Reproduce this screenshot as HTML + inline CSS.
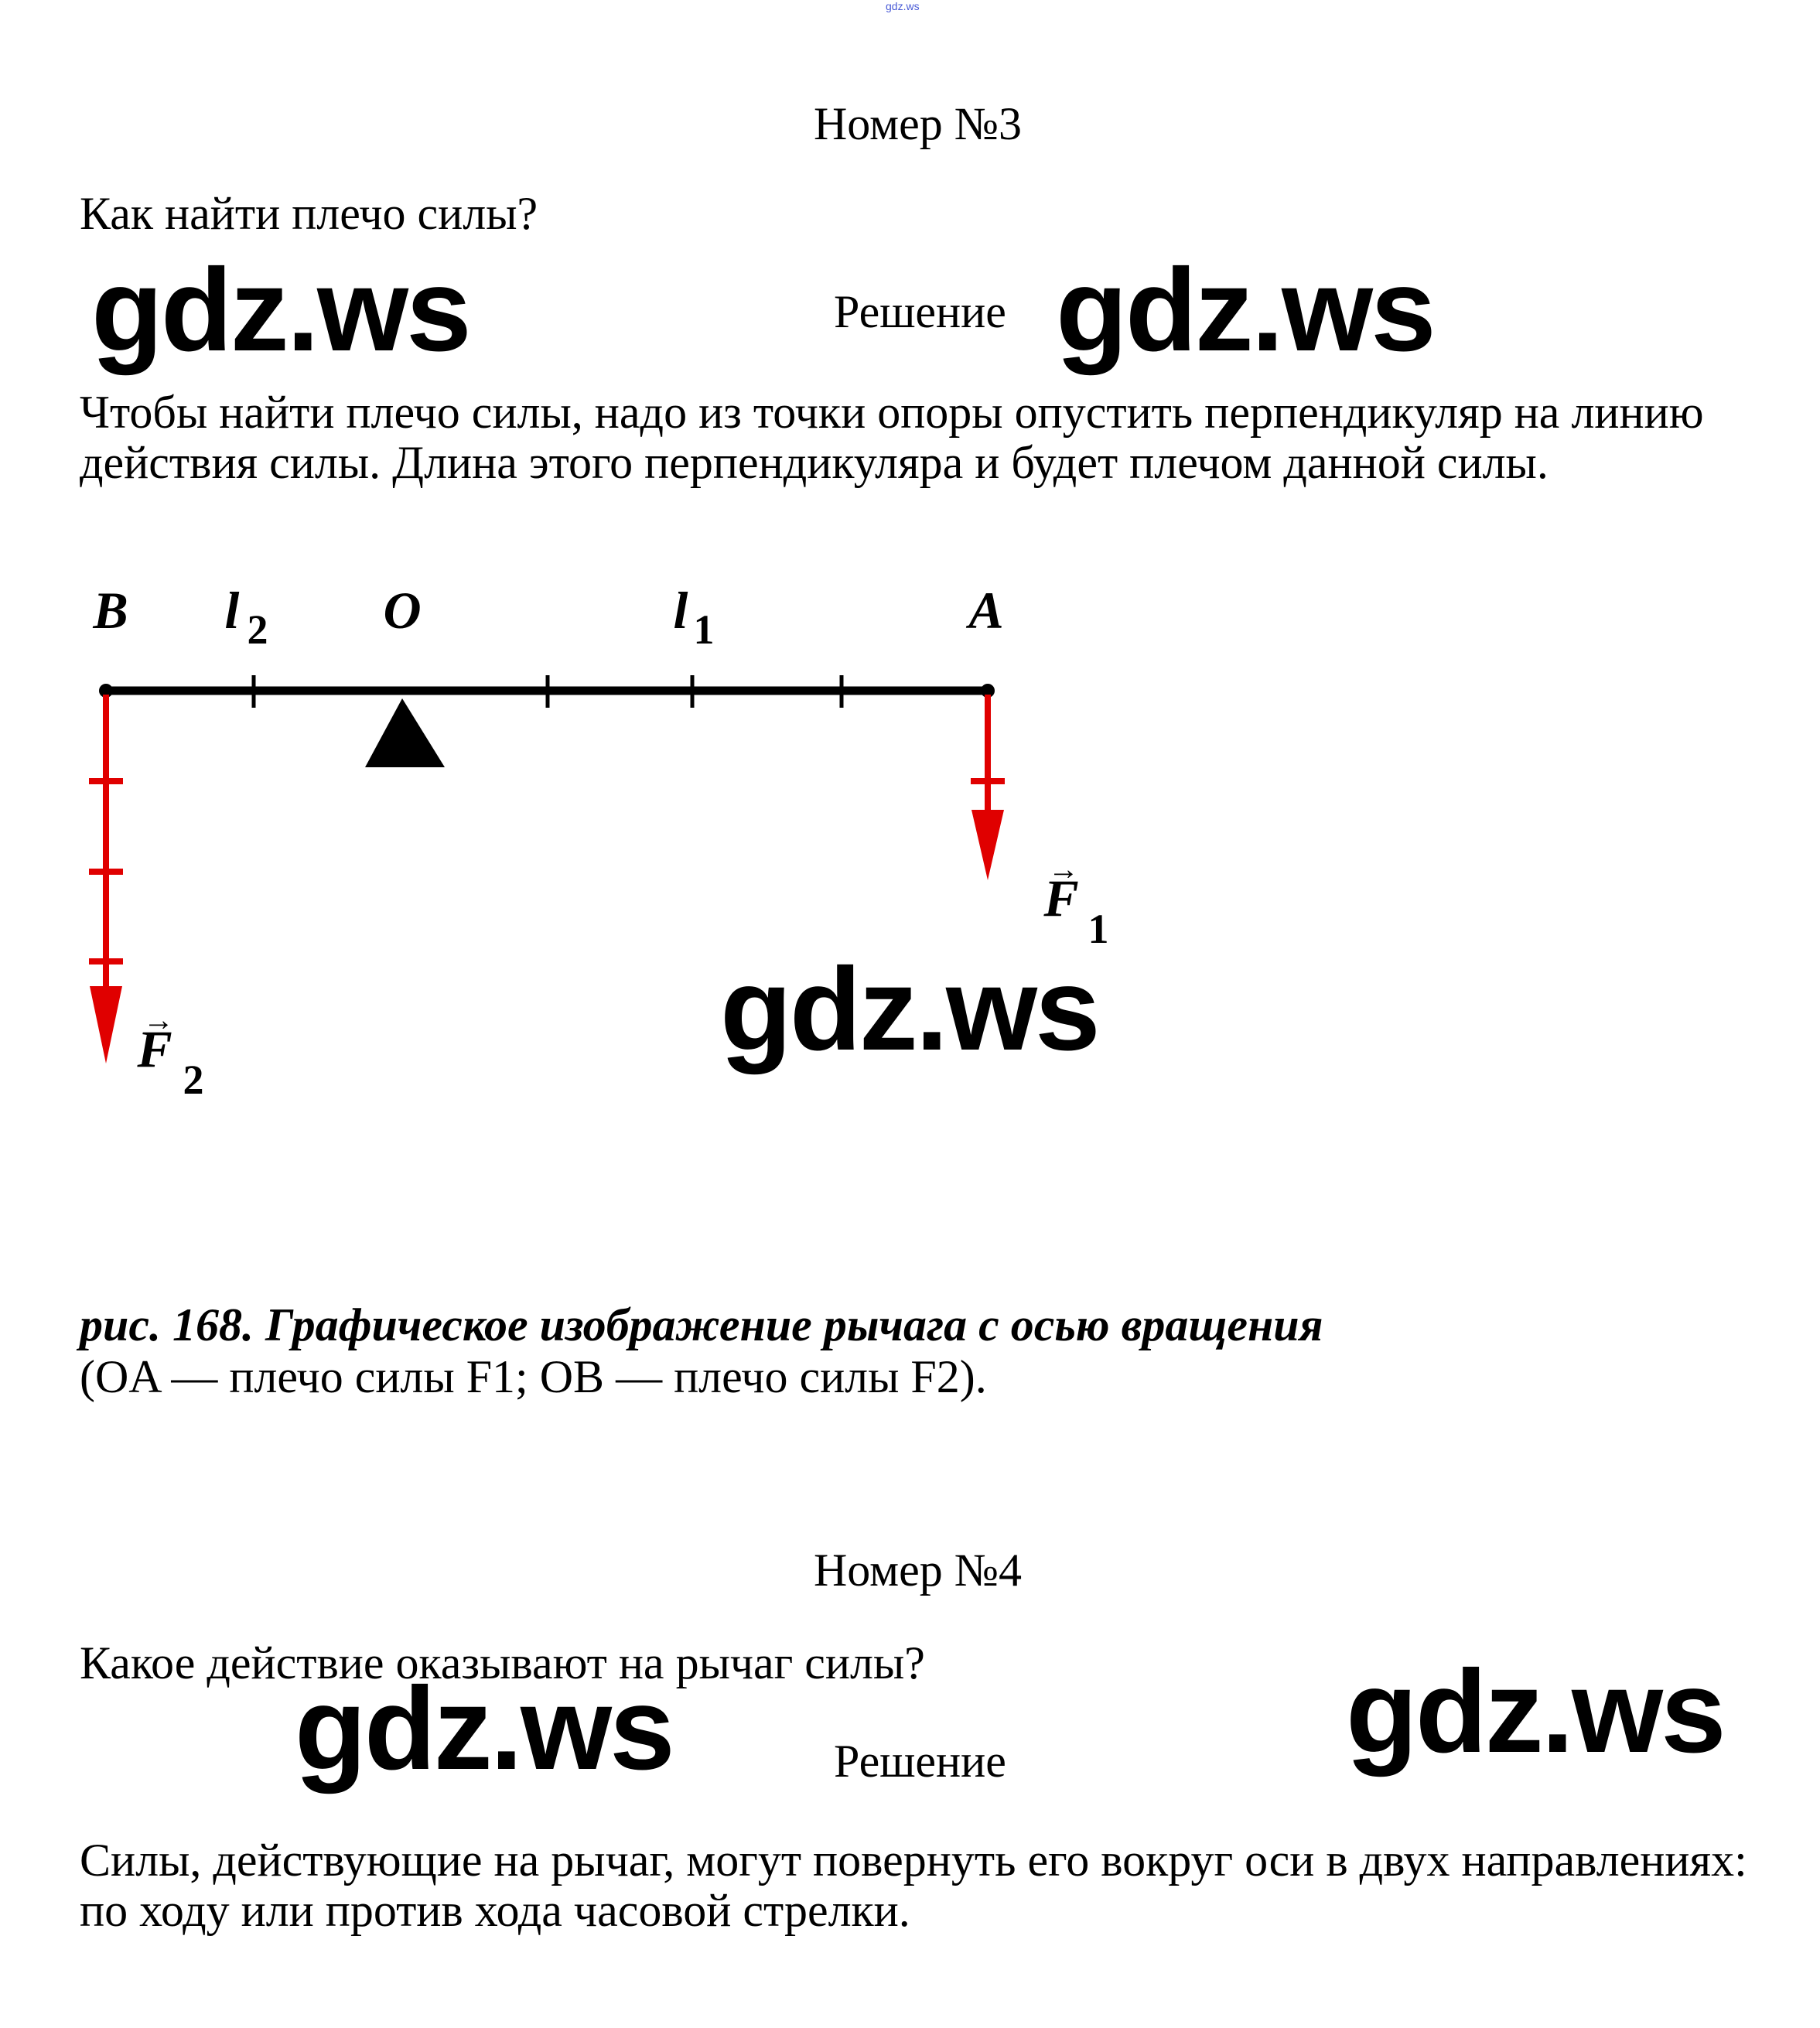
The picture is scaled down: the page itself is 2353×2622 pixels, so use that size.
<!DOCTYPE html>
<html><head><meta charset="utf-8"><style>
html,body{margin:0;padding:0;background:#fff;}
body{width:2353px;height:2622px;position:relative;overflow:hidden;}
.t{position:absolute;white-space:nowrap;font-family:"Liberation Serif","Noto Serif CJK SC",serif;font-size:60px;line-height:60px;color:#000;}
.g{position:absolute;white-space:nowrap;font-family:"Liberation Sans",sans-serif;font-weight:bold;font-size:152px;line-height:152px;color:#000;letter-spacing:-3px;}
</style></head><body>
<div style="position:absolute;left:1145px;top:0;font:14px 'Liberation Sans',sans-serif;color:#4a5bd6">gdz.ws</div>
<div class="t" style="left:0;width:2373px;text-align:center;top:130px">Номер №3</div>
<div class="t" style="left:103px;top:246px">Как найти плечо силы?</div>
<div class="g" style="left:118px;top:325px">gdz.ws</div>
<div class="t" style="left:1078px;top:373px">Решение</div>
<div class="g" style="left:1365px;top:325px">gdz.ws</div>
<div class="t" style="left:103px;top:501px;line-height:65px">Чтобы найти плечо силы, надо из точки опоры опустить перпендикуляр на линию<br>действия силы. Длина этого перпендикуляра и будет плечом данной силы.</div>

<svg style="position:absolute;left:0;top:0" width="2353" height="2622">
<g font-family="Liberation Serif,serif" font-style="italic" font-weight="bold" font-size="68" text-anchor="middle">
<text x="143" y="812">B</text>
<text x="300" y="812">l</text><text x="333" y="832" font-style="normal" font-size="54">2</text>
<text x="520" y="812">O</text>
<text x="880" y="812">l</text><text x="910" y="832" font-style="normal" font-size="54">1</text>
<text x="1275" y="812">A</text>
<text x="1372" y="1184">F</text><text x="1420" y="1219" font-style="normal" font-size="54">1</text>
<text x="1375" y="1137" font-style="normal" font-size="40">→</text>
<text x="200" y="1379">F</text><text x="250" y="1414" font-style="normal" font-size="54">2</text>
<text x="205" y="1332" font-style="normal" font-size="40">→</text>
</g>
<line x1="137" y1="893" x2="1277" y2="893" stroke="#000" stroke-width="11"/>
<circle cx="137" cy="893" r="9"/><circle cx="1277" cy="893" r="9"/>
<g stroke="#000" stroke-width="5">
<line x1="328" y1="873" x2="328" y2="915"/><line x1="708" y1="873" x2="708" y2="915"/>
<line x1="895" y1="873" x2="895" y2="915"/><line x1="1088" y1="873" x2="1088" y2="915"/>
</g>
<polygon points="520,903 472,992 575,992" fill="#000"/>
<g stroke="#e00000" stroke-width="8">
<line x1="137" y1="898" x2="137" y2="1290"/>
<line x1="115" y1="1010" x2="159" y2="1010"/><line x1="115" y1="1127" x2="159" y2="1127"/><line x1="115" y1="1243" x2="159" y2="1243"/>
<line x1="1277" y1="898" x2="1277" y2="1060"/>
<line x1="1255" y1="1010" x2="1299" y2="1010"/>
</g>
<polygon points="116,1275 158,1275 137,1375" fill="#e00000"/>
<polygon points="1256,1047 1298,1047 1277,1138" fill="#e00000"/>
</svg>
<div class="g" style="left:931px;top:1229px">gdz.ws</div>

<div class="t" style="left:103px;top:1683px;font-weight:bold;font-style:italic">рис. 168. Графическое изображение рычага с осью вращения</div>
<div class="t" style="left:103px;top:1750px">(OA — плечо силы F1; OB — плечо силы F2).</div>
<div class="t" style="left:0;width:2373px;text-align:center;top:2000px">Номер №4</div>
<div class="t" style="left:103px;top:2120px">Какое действие оказывают на рычаг силы?</div>
<div class="g" style="left:381px;top:2159px">gdz.ws</div>
<div class="t" style="left:1078px;top:2247px">Решение</div>
<div class="g" style="left:1740px;top:2137px">gdz.ws</div>
<div class="t" style="left:103px;top:2373px;line-height:65px">Силы, действующие на рычаг, могут повернуть его вокруг оси в двух направлениях:<br>по ходу или против хода часовой стрелки.</div>
</body></html>
